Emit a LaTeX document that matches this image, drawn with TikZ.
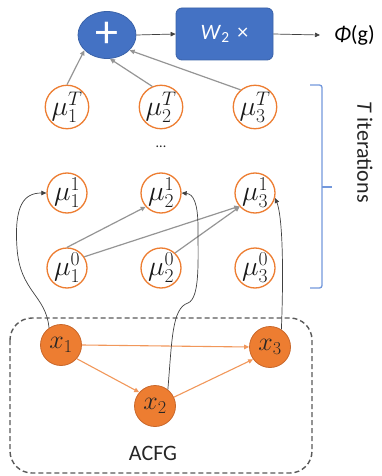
\RequirePackage{fix-cm}
\documentclass[tikz,border=0pt]{standalone}
\usepackage{fontspec}
\setmainfont{Carlito}
\usetikzlibrary{arrows.meta,shapes.geometric}

\definecolor{officeblue}{HTML}{4472C4}
\definecolor{blueedge}{HTML}{3A62A8}
\definecolor{officeorange}{HTML}{ED7D31}
\definecolor{orangeedge}{HTML}{C9672A}
\definecolor{lightorange}{HTML}{F6B994}
\definecolor{bracecol}{HTML}{7398DC}
\definecolor{darkline}{HTML}{404040}
\definecolor{grayline}{HTML}{A6A6A6}
\definecolor{boxline}{HTML}{595959}

\tikzset{
  tip/.style={-{Triangle[length=5pt,width=4.5pt]}},
  bluenode/.style={fill=officeblue,draw=blueedge,line width=0.8pt,text=white},
  munode/.style={circle,draw=officeorange,fill=white,line width=1.3pt,
    minimum size=40pt,inner sep=0pt,text=black!90,font=\fontsize{28}{28}\selectfont},
  xnode/.style={circle,draw=orangeedge,fill=officeorange,line width=0.8pt,
    minimum size=41pt,inner sep=0pt,text=black!85,font=\fontsize{26}{26}\selectfont},
  grayarrow/.style={tip,draw=grayline,line width=1.2pt,color=grayline!90!black},
  thinarrow/.style={tip,draw=darkline,line width=0.7pt,color=darkline},
  orangearrow/.style={-{Triangle[length=5pt,width=4.5pt]},draw=lightorange,
    line width=1.1pt,color=officeorange!80},
  label/.style={text=black!85,font=\fontsize{22}{22}\selectfont,inner sep=0pt}
}

\begin{document}
\begin{tikzpicture}[x=1pt,y=-1pt]
\useasboundingbox (0,0) rectangle (381,476);

% output stage
\node[bluenode,ellipse,minimum width=58pt,minimum height=47pt,inner sep=0pt,
      font=\fontsize{46}{46}\selectfont] (plus) at (107,35) {+};
\node[bluenode,rectangle,rounded corners=6pt,minimum width=97pt,minimum height=52pt,
      font=\fontsize{22}{22}\selectfont] (wbox) at (224.5,34)
      {\textit{W}\textsubscript{2}\hspace{0.35em}×};
\node[anchor=west,inner xsep=14pt,inner ysep=0pt,text=black,
      font=\fontsize{22}{22}\selectfont] (phi) at (320,35) {\textit{Φ}(g)};
\draw[thinarrow] (plus.east) -- (wbox.west);
\draw[thinarrow] (wbox.east) -- (phi.west);

% embedding nodes: readout row, first iteration, initial values
\node[munode] (muT1) at (67,107) {$\mu_{1}^{T}$};
\node[munode] (muT2) at (161,107) {$\mu_{2}^{T}$};
\node[munode] (muT3) at (255,107) {$\mu_{3}^{T}$};
\node[munode] (muA1) at (67,193) {$\mu_{1}^{1}$};
\node[munode] (muA2) at (161,193) {$\mu_{2}^{1}$};
\node[munode] (muA3) at (255,193) {$\mu_{3}^{1}$};
\node[munode] (muZ1) at (67,268) {$\mu_{1}^{0}$};
\node[munode] (muZ2) at (161,268) {$\mu_{2}^{0}$};
\node[munode] (muZ3) at (255,268) {$\mu_{3}^{0}$};
\node[label,font=\fontsize{14}{14}\selectfont] (dots) at (161,147) {...};

% readout into the sum
\draw[grayarrow] (muT1.north) -- (plus.214);
\draw[grayarrow] (muT2.113) -- (plus.-83);
\draw[grayarrow] (muT3.130) -- (plus.-34);

% first propagation step
\draw[grayarrow] (muZ1.north) -- (muA2.222);
\draw[grayarrow] (muZ1.33) -- (muA3.220);
\draw[grayarrow] (muZ2.47) -- (muA3.222);

% the ACFG itself
\draw[boxline,dashed,dash pattern=on 5pt off 3pt,line width=1.4pt,rounded corners=22pt]
  (10,318) rectangle (312,473);
\node[label] (acfg) at (153,453) {ACFG};

\node[xnode] (x1) at (61,345) {$x_1$};
\node[xnode] (x2) at (155,406) {$x_2$};
\node[xnode] (x3) at (270,347) {$x_3$};

\draw[orangearrow] (x1.east) -- (x3.west);
\draw[orangearrow] (x1.-41) -- (x2.139);
\draw[orangearrow] (x2.25) -- (x3.216);

% vertex attributes feeding the first iteration
\draw[thinarrow] (x1.125) .. controls (46,295) and (20,292) .. (17,248)
  .. controls (14,205) and (24,193) .. (muA1.west);
\draw[thinarrow] (x2.52) .. controls (172,340) and (172,308) .. (188,303)
  .. controls (200,298) and (198,262) .. (198,228)
  .. controls (198,202) and (193,194) .. (muA2.east);
\draw[thinarrow] (x3.57) .. controls (284,262) and (282,215) .. (muA3.-14);

% iteration bracket
\draw[bracecol,line width=1.3pt,rounded corners=2.5pt]
  (310,85) -- (322,85) -- (322,288) -- (310,288);
\draw[bracecol,line width=1.3pt] (322,187) -- (332,187);
\node[label,rotate=-90] (iters) at (365,152) {\textit{T} iterations};
\end{tikzpicture}
\end{document}
